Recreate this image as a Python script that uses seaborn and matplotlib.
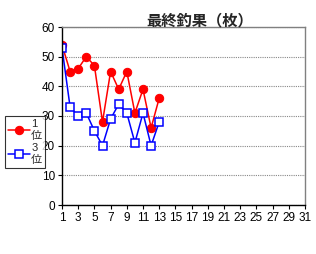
import matplotlib
matplotlib.use("Agg")
import matplotlib.pyplot as plt
import seaborn as sns
import pandas as pd

days = list(range(1, 14))
first_place = [54, 45, 46, 50, 47, 28, 45, 39, 45, 31, 39, 26, 36]
third_place = [53, 33, 30, 31, 25, 20, 29, 34, 31, 21, 31, 20, 28]
series_names = ["1位", "3位"]
title = "最終釣果（枚）"
y_ticks = [0, 10, 20, 30, 40, 50, 60]
x_major = list(range(1, 32, 2))
x_minor = list(range(1, 32))

sns.set_style("white")
plt.rcParams["font.family"] = ["Liberation Sans", "Noto Sans CJK JP"]

fig = plt.figure(figsize=(3.16, 2.54), dpi=100)
ax = fig.add_axes([62/316, 1-205/254, (305-62)/316, (205-27)/254])

sns.lineplot(x=days, y=first_place, ax=ax, color="#ff0000", marker="o",
             markersize=6, markeredgecolor="#ff0000", markerfacecolor="#ff0000",
             linewidth=1.1, label=series_names[0][0] + "\n" + series_names[0][1:])
sns.lineplot(x=days, y=third_place, ax=ax, color="#0000ff", marker="s",
             markersize=5.5, markeredgecolor="#0000ff", markerfacecolor="white",
             markeredgewidth=1.1, linewidth=1.1,
             label=series_names[1][0] + "\n" + series_names[1][1:])

ax.set_xlim(1, 31)
ax.set_ylim(0, 60)
ax.set_yticks(y_ticks)
ax.set_xticks(x_major)
ax.set_xticks(x_minor, minor=True)
ax.tick_params(axis="both", which="both", direction="out", labelsize=8.5,
               colors="black", length=3, width=0.8, pad=2)
ax.tick_params(axis="x", which="minor", length=3)
ax.tick_params(axis="y", length=3, left=True)
ax.tick_params(axis="x", bottom=True)
ax.yaxis.grid(True, color="#888888", linestyle=(0, (1, 1)), linewidth=0.8)
ax.set_axisbelow(True)
for s in ["left", "bottom"]:
    ax.spines[s].set_color("black")
    ax.spines[s].set_linewidth(1.0)
for s in ["top", "right"]:
    ax.spines[s].set_color("#808080")
    ax.spines[s].set_linewidth(1.0)

leg = ax.legend(loc="center left", bbox_to_anchor=(5/316, 1-142/254),
                bbox_transform=fig.transFigure, fontsize=8, frameon=True,
                fancybox=False, edgecolor="black", handlelength=2.0,
                handletextpad=0.1, borderpad=0.25, labelspacing=0.25,
                borderaxespad=0)
leg.get_frame().set_linewidth(0.8)

fig.text(200/316, 1-20/254, title, ha="center", va="center", fontsize=11,
         fontweight="bold", family=["Noto Sans CJK JP", "DejaVu Sans"])

fig.savefig("out.png", dpi=100, facecolor="white")
